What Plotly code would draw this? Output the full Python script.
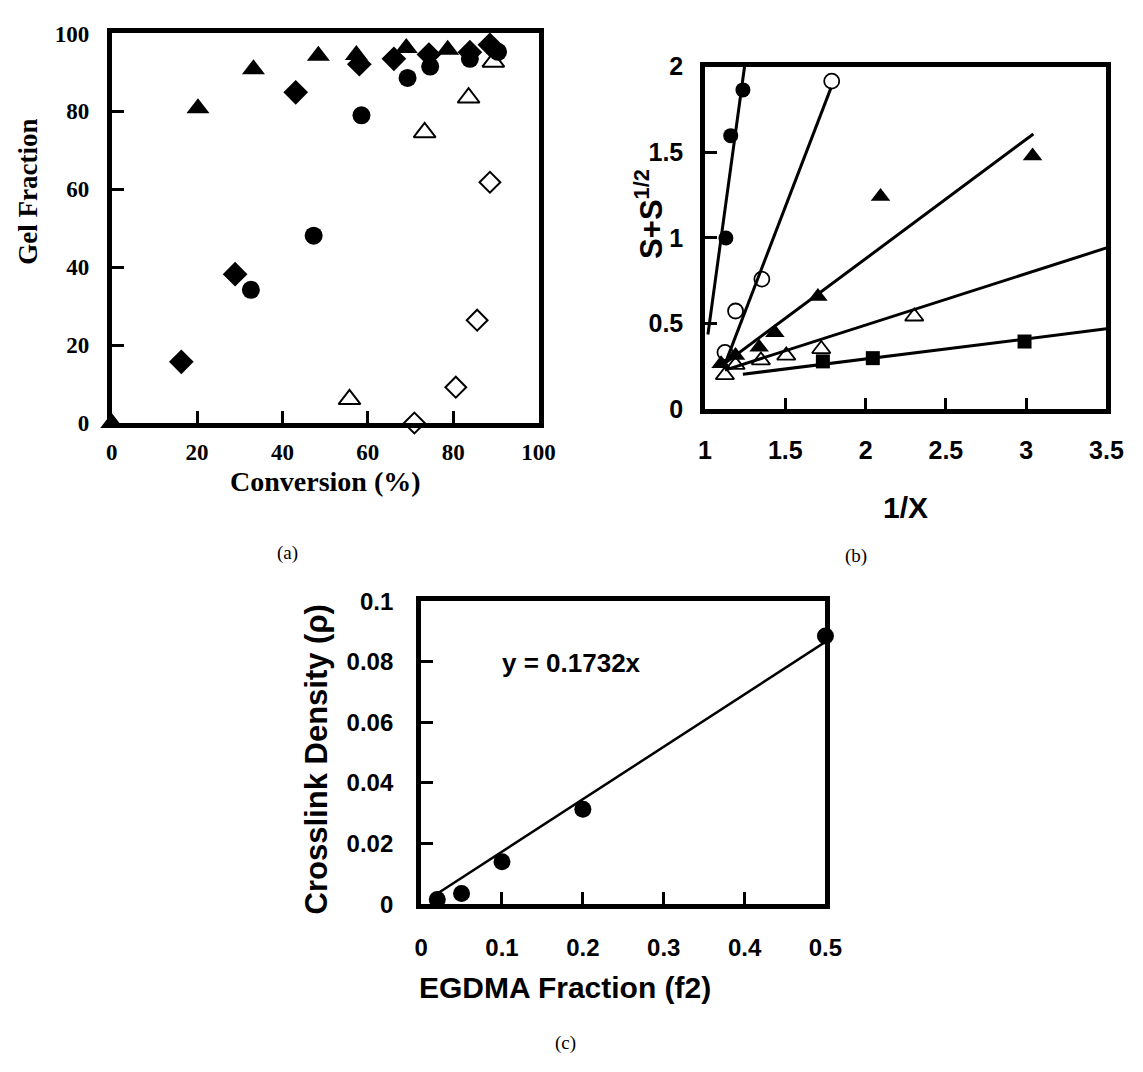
import plotly.graph_objects as go

W, H = 1143, 1072

# ---------------- Panel (a): Gel fraction vs conversion ----------------
a_fill_tri_x = [0, 20.2, 33.2, 48.4, 57.3, 69.0, 78.7]
a_fill_tri_y = [0, 80.8, 90.8, 94.3, 94.5, 96.3, 95.8]
a_fill_dia_x = [16.3, 28.9, 43.1, 58.0, 66.1, 74.3, 83.9, 88.6]
a_fill_dia_y = [15.7, 38.2, 84.9, 92.1, 93.5, 94.6, 95.2, 97.1]
a_fill_cir_x = [32.6, 47.3, 58.5, 69.3, 74.6, 83.9, 90.5]
a_fill_cir_y = [34.2, 48.1, 79.0, 88.6, 91.5, 93.5, 95.3]
a_open_tri_x = [55.7, 73.3, 83.6, 89.4]
a_open_tri_y = [6.1, 74.6, 83.5, 92.7]
a_open_dia_x = [70.9, 80.6, 85.6, 88.6]
a_open_dia_y = [0.0, 9.2, 26.4, 61.8]
a_ticks = [0, 20, 40, 60, 80, 100]
a_text = ["0", "20", "40", "60", "80", "100"]

# ---------------- Panel (b): S+S^1/2 vs 1/X ----------------
b_fcir_x = [1.13, 1.16, 1.236]
b_fcir_y = [1.00, 1.597, 1.864]
b_ocir_x = [1.124, 1.19, 1.354, 1.789]
b_ocir_y = [0.333, 0.574, 0.76, 1.915]
b_ftri_x = [1.10, 1.19, 1.337, 1.435, 1.703, 2.093, 3.04]
b_ftri_y = [0.267, 0.314, 0.362, 0.447, 0.659, 1.242, 1.479]
b_otri_x = [1.124, 1.19, 1.348, 1.506, 1.724, 2.303]
b_otri_y = [0.20, 0.26, 0.286, 0.314, 0.352, 0.542]
b_fsq_x = [1.734, 2.045, 2.99]
b_fsq_y = [0.28, 0.299, 0.396]
# fitted lines: slope, intercept, x start, x end
b_fit_slope = [6.85, 2.441, 0.696, 0.30, 0.117]
b_fit_icpt = [-6.536, -2.480, -0.513, -0.108, 0.0604]
b_fit_x0 = [1.018, 1.114, 1.10, 1.124, 1.236]
b_fit_x1 = [1.246, 1.785, 3.045, 3.5, 3.5]
b_xticks = [1, 1.5, 2, 2.5, 3, 3.5]
b_xtext = ["1", "1.5", "2", "2.5", "3", "3.5"]
b_yticks = [0, 0.5, 1, 1.5, 2]
b_ytext = ["0", "0.5", "1", "1.5", "2"]

# ---------------- Panel (c): crosslink density vs EGDMA fraction ----------------
c_x = [0.02, 0.05, 0.1, 0.2, 0.5]
c_y = [0.0015, 0.0035, 0.014, 0.0313, 0.0885]
c_slope = 0.1732
c_fit_x = [0.015, 0.5]
c_xticks = [0, 0.1, 0.2, 0.3, 0.4, 0.5]
c_xtext = ["0", "0.1", "0.2", "0.3", "0.4", "0.5"]
c_yticks = [0, 0.02, 0.04, 0.06, 0.08, 0.1]
c_ytext = ["0", "0.02", "0.04", "0.06", "0.08", "0.1"]


def px(x):
    return x / W


def py(y):
    return 1 - y / H


SERIF = "Liberation Serif"
SANS = "Liberation Sans"

fig = go.Figure()


def sc(x, y, sym, size, xa, ya, lw=0):
    return go.Scatter(
        x=x, y=y, mode="markers", xaxis=xa, yaxis=ya, cliponaxis=False,
        marker=dict(symbol=sym, size=size, color="black",
                    line=dict(color="black", width=lw)),
        showlegend=False, hoverinfo="x+y")


# panel (a)
fig.add_trace(sc(a_open_dia_x, a_open_dia_y, "diamond-open", 16, "x", "y", lw=2))
fig.add_trace(sc(a_open_tri_x, a_open_tri_y, "triangle-up-open", 19, "x", "y", lw=2))
fig.add_trace(sc(a_fill_cir_x, a_fill_cir_y, "circle", 18, "x", "y"))
fig.add_trace(sc(a_fill_dia_x, a_fill_dia_y, "diamond", 19, "x", "y"))
fig.add_trace(sc(a_fill_tri_x, a_fill_tri_y, "triangle-up", 20, "x", "y"))

# panel (b) fit lines
for s, b, x0, x1 in zip(b_fit_slope, b_fit_icpt, b_fit_x0, b_fit_x1):
    fig.add_trace(go.Scatter(
        x=[x0, x1], y=[s * x0 + b, s * x1 + b], mode="lines",
        xaxis="x2", yaxis="y2", line=dict(color="black", width=3),
        showlegend=False, hoverinfo="skip"))
fig.add_trace(sc(b_fsq_x, b_fsq_y, "square", 14, "x2", "y2"))
fig.add_trace(sc(b_otri_x, b_otri_y, "triangle-up-open", 16, "x2", "y2", lw=1.8))
fig.add_trace(sc(b_ftri_x, b_ftri_y, "triangle-up", 17, "x2", "y2"))
fig.add_trace(sc(b_ocir_x, b_ocir_y, "circle-open", 15, "x2", "y2", lw=1.8))
fig.add_trace(sc(b_fcir_x, b_fcir_y, "circle", 15, "x2", "y2"))

# panel (c)
fig.add_trace(go.Scatter(
    x=c_fit_x, y=[c_slope * v for v in c_fit_x], mode="lines",
    xaxis="x3", yaxis="y3", line=dict(color="black", width=2.5),
    showlegend=False, hoverinfo="skip"))
fig.add_trace(sc(c_x, c_y, "circle", 17, "x3", "y3"))


def bold(lst):
    return ["<b>%s</b>" % t for t in lst]


def axis(dom, rng, ticks, text, font, size, standoff, anchor, lw):
    return dict(domain=dom, range=rng, tickmode="array", tickvals=ticks,
                ticktext=bold(text), ticks="inside", ticklen=12, tickwidth=3,
                tickcolor="black", ticklabelstandoff=standoff,
                showline=True, linecolor="black", linewidth=lw, mirror=True,
                showgrid=False, zeroline=False, anchor=anchor,
                tickfont=dict(family=font, size=size, color="black"))


fig.update_layout(
    width=W, height=H,
    margin=dict(l=0, r=0, t=0, b=0),
    paper_bgcolor="white", plot_bgcolor="white",
    xaxis=axis([px(107), px(543)], [0, 100], a_ticks, a_text, SERIF, 23, 4, "y", 5),
    yaxis=axis([py(420), py(20)], [0, 100], a_ticks, a_text, SERIF, 23, 13, "x", 5),
    xaxis2=axis([px(713), px(1123)], [1, 3.5], b_xticks, b_xtext, SANS, 25, 15, "y2", 4.5),
    yaxis2=axis([py(406), py(54)], [0, 2], b_yticks, b_ytext, SANS, 25, 12, "x2", 4.5),
    xaxis3=axis([px(423), px(836)], [0, 0.5], c_xticks, c_xtext, SANS, 24, 18, "y3", 5),
    yaxis3=axis([py(914), py(603)], [0, 0.1], c_yticks, c_ytext, SANS, 24, 18, "x3", 5),
)

ann = []


def txt(text, x, y, family, size, bold_=True, angle=0):
    ann.append(dict(text=("<b>%s</b>" % text) if bold_ else text,
                    x=px(x), y=py(y), xref="paper", yref="paper",
                    showarrow=False, textangle=angle, xanchor="center",
                    yanchor="middle",
                    font=dict(family=family, size=size, color="black")))


txt("Gel Fraction", 22, 183, SERIF, 27, angle=-90)
txt("Conversion (%)", 325, 480, SERIF, 28)
txt("(a)", 287, 553, SERIF, 19, bold_=False)
txt("S+S<sup>1/2</sup>", 655, 205, SANS, 31, angle=-90)
txt("1/X", 918, 507, SANS, 30)
txt("(b)", 867, 557, SERIF, 19, bold_=False)
txt("Crosslink Density (ρ)", 316, 765, SANS, 31, angle=-90)
txt("EGDMA Fraction (f2)", 570, 1000, SANS, 30)
txt("y = 0.1732x", 577, 666, SANS, 26)
txt("(c)", 570, 1057, SERIF, 19, bold_=False)

fig.update_layout(annotations=ann)
fig.write_html("out.html")
